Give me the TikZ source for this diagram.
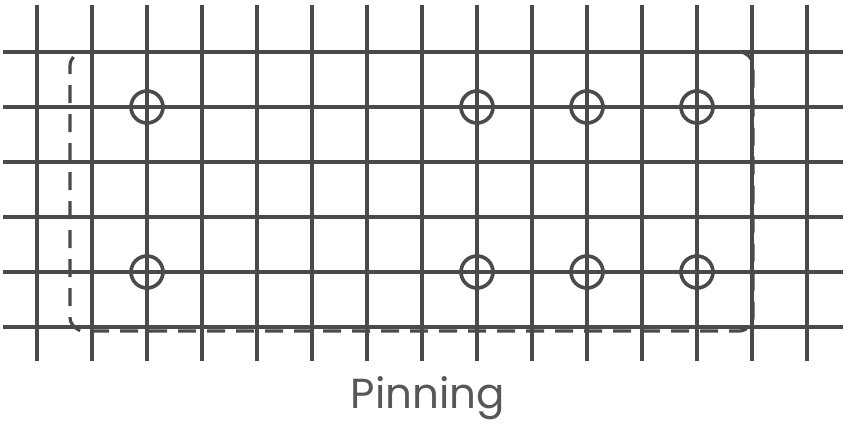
\documentclass[tikz,border=0pt]{standalone}
\usepackage{fontspec}
\setmainfont{Poppins}
\definecolor{gridgrey}{HTML}{4A4A4A}
\definecolor{textgrey}{HTML}{575757}

\begin{document}
\begin{tikzpicture}[x=1pt, y=-1pt, line width=3.6pt, draw=gridgrey, pin/.style = {circle, draw=gridgrey, line width=3.6pt, minimum size=32pt, inner sep=0pt}, frame/.style = {draw=gridgrey, line width=3.2pt, dash pattern=on 18pt off 11pt, rounded corners=14pt, minimum width=683pt, minimum height=279pt, inner sep=0pt}]
			\useasboundingbox (0,0) rectangle (848,432);
			% grid
			\foreach \i in {0,...,14}
				\draw (37+55*\i,5) -- (37+55*\i,361);
			\foreach \j in {0,...,5}
				\draw (3,52+55*\j) -- (843,52+55*\j);
			% pins
			\node[pin] (a1) at (147,107) {};
			\node[pin] (b1) at (477,107) {};
			\node[pin] (c1) at (587,107) {};
			\node[pin] (d1) at (697,107) {};
			\node[pin] (a2) at (147,272) {};
			\node[pin] (b2) at (477,272) {};
			\node[pin] (c2) at (587,272) {};
			\node[pin] (d2) at (697,272) {};
			\node[frame] (frame) at (411.5,191.5) {};
			\node[text=textgrey, font=\fontsize{42}{48}\selectfont] (label) at (428,398) {Pinning};
		\end{tikzpicture}
\end{document}
